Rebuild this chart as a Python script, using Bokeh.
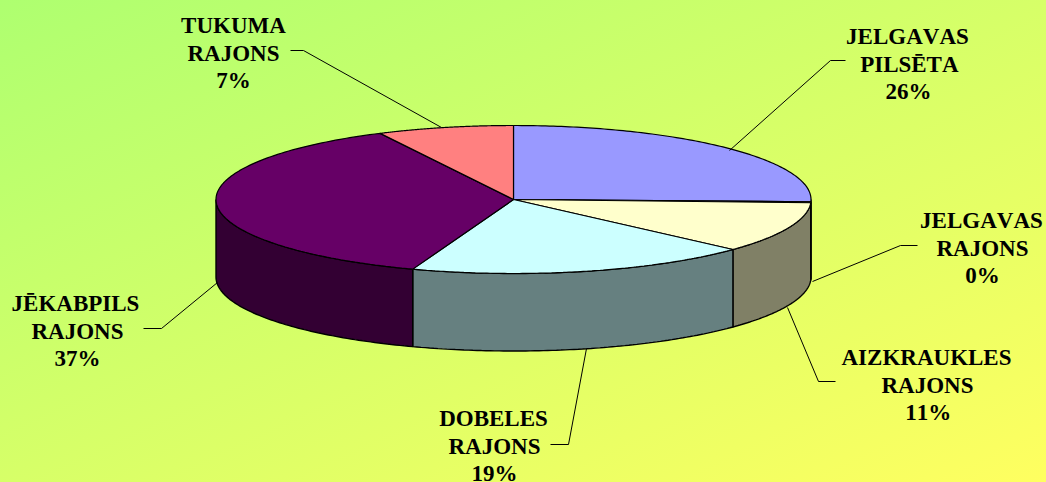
import numpy as np
from bokeh.plotting import figure
from bokeh.models import Range1d
from bokeh.core.properties import value
from bokeh.embed import file_html
from bokeh.resources import INLINE

# --- data ---
names = [["JELGAVAS", "PILSĒTA"], ["JELGAVAS", "RAJONS"], ["AIZKRAUKLES", "RAJONS"],
         ["DOBELES", "RAJONS"], ["JĒKABPILS", "RAJONS"], ["TUKUMA", "RAJONS"]]
percent_labels = ["26%", "0%", "11%", "19%", "37%", "7%"]
shares = [25.5, 0.2, 11.1, 18.7, 37.1, 7.4]
top_colors = ["#9999FF", "#993366", "#FFFFCC", "#CCFFFF", "#660066", "#FF8080"]
side_colors = ["#4C4C80", "#4C1933", "#808066", "#668080", "#330033", "#804040"]

# --- layout (page pixels) ---
W, H = 1046, 482
CX, CY, RX, RY, DEPTH = 513.0, 199.0, 297.5, 74.0, 77.5
label_pos = [(908, 36), (982, 220), (927, 357), (494, 418), (77, 303), (233, 25)]
LINE_STEP = 27.6
# unkerned words sit a little right of centre, because the centring is measured with kerning
word_nudge = {"JELGAVAS": -4, "JĒKABPILS": -2, "AIZKRAUKLES": -1, "DOBELES": -1}
leaders = [
    [(729, 150), (830, 60), (845, 60)],
    [(812, 281), (900, 245), (917, 245)],
    [(787, 307), (818, 381), (835, 381)],
    [(586, 348), (568, 444), (550, 444)],
    [(217, 282), (161, 328), (143, 328)],
    [(441, 127), (303, 50), (290, 50)],
]

def ell(t, dy=0.0):
    return CX + RX * np.sin(t), CY - RY * np.cos(t) + dy

p = figure(width=W, height=H, x_range=Range1d(0, W), y_range=Range1d(H, 0),
           toolbar_location=None, output_backend="svg", min_border=0,
           background_fill_color=None, border_fill_color=None,
           styles={"background": "linear-gradient(to bottom right, #AEFF70, #FFFF60)",
                   "font-kerning": "none"})
p.axis.visible = False
p.grid.visible = False
p.outline_line_color = None

# slices
edges = np.radians(np.concatenate([[0], np.cumsum(shares)]) / sum(shares) * 360)
# sides: only the front half (90..270 deg) is visible
for i in range(len(shares)):
    a, b = max(edges[i], np.pi / 2), min(edges[i + 1], 3 * np.pi / 2)
    if b <= a:
        continue
    t = np.linspace(a, b, 80)
    x1, y1 = ell(t)
    x2, y2 = ell(t[::-1], DEPTH)
    p.patch(np.r_[x1, x2], np.r_[y1, y2], fill_color=side_colors[i],
            line_color="black", line_width=1.4)
# top faces
for i in range(len(shares)):
    t = np.linspace(edges[i], edges[i + 1], 120)
    x, y = ell(t)
    p.patch(np.r_[CX, x], np.r_[CY, y], fill_color=top_colors[i],
            line_color="black", line_width=1.2)

# leader lines
for pts in leaders:
    p.line([q[0] for q in pts], [q[1] for q in pts], line_color="black", line_width=1)

# labels
xs, ys, txt = [], [], []
for (lx, ly), nm, pc in zip(label_pos, names, percent_labels):
    for j, line in enumerate(nm + [pc]):
        xs.append(lx + word_nudge.get(line, 0)); ys.append(ly + j * LINE_STEP); txt.append(line)
p.text(xs, ys, text=txt, text_font=value("Liberation Serif"), text_font_style="bold",
       text_font_size="23px", text_color="black", text_align="center",
       text_baseline="middle")

open("out.html", "w").write(file_html(p, INLINE))
